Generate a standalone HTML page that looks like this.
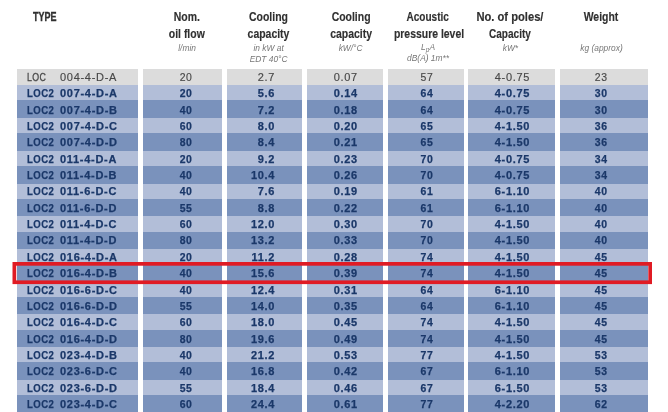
<!DOCTYPE html>
<html><head><meta charset="utf-8"><title>t</title>
<style>
html,body{margin:0;padding:0;background:#fff;}
body{width:668px;height:412px;overflow:hidden;position:relative;filter:blur(0.35px);font-family:"Liberation Sans",sans-serif;}
.c{position:absolute;}
.t{position:absolute;white-space:nowrap;font-weight:bold;font-size:11px;color:#1b3869;letter-spacing:0.7px;line-height:16px;transform-origin:0 50%;margin-top:0.4px;-webkit-text-stroke:0.25px #1b3869;}
.m{text-align:center;transform-origin:50% 50%;text-indent:0.7px;}
.r{text-align:right;transform-origin:100% 50%;}
.g{font-weight:normal;color:#484848;-webkit-text-stroke:0.15px #484848;}
.h{position:absolute;text-align:center;font-weight:bold;font-size:12px;color:#303030;line-height:16.5px;white-space:nowrap;transform:scaleX(0.87);transform-origin:50% 50%;-webkit-text-stroke:0.15px #303030;}
.s{position:absolute;text-align:center;font-style:italic;font-size:8.4px;color:#777;line-height:10.5px;white-space:nowrap;}
#red{position:absolute;left:12.4px;top:262px;width:632px;height:14.3px;border:3.8px solid #e01b24;}
</style></head><body>

<div class="c" style="left:17px;top:93.12px;width:121.2px;height:400px;background:#7a92bc"></div>
<div class="c" style="left:142.6px;top:93.12px;width:79.6px;height:400px;background:#7a92bc"></div>
<div class="c" style="left:226.6px;top:93.12px;width:75.0px;height:400px;background:#7a92bc"></div>
<div class="c" style="left:307px;top:93.12px;width:76.2px;height:400px;background:#7a92bc"></div>
<div class="c" style="left:388.1px;top:93.12px;width:75.5px;height:400px;background:#7a92bc"></div>
<div class="c" style="left:468.4px;top:93.12px;width:87.1px;height:400px;background:#7a92bc"></div>
<div class="c" style="left:560px;top:93.12px;width:88.0px;height:400px;background:#7a92bc"></div>
<div class="c" style="left:17px;top:68.60px;width:121.2px;height:16.45px;background:#dcdcdc"></div>
<div class="c" style="left:142.6px;top:68.60px;width:79.6px;height:16.45px;background:#dcdcdc"></div>
<div class="c" style="left:226.6px;top:68.60px;width:75.0px;height:16.45px;background:#dcdcdc"></div>
<div class="c" style="left:307px;top:68.60px;width:76.2px;height:16.45px;background:#dcdcdc"></div>
<div class="c" style="left:388.1px;top:68.60px;width:75.5px;height:16.45px;background:#dcdcdc"></div>
<div class="c" style="left:468.4px;top:68.60px;width:87.1px;height:16.45px;background:#dcdcdc"></div>
<div class="c" style="left:560px;top:68.60px;width:88.0px;height:16.45px;background:#dcdcdc"></div>
<div class="c" style="left:17px;top:84.65px;width:121.2px;height:15.25px;background:#b2bed8"></div>
<div class="c" style="left:142.6px;top:84.65px;width:79.6px;height:15.25px;background:#b2bed8"></div>
<div class="c" style="left:226.6px;top:84.65px;width:75.0px;height:15.25px;background:#b2bed8"></div>
<div class="c" style="left:307px;top:84.65px;width:76.2px;height:15.25px;background:#b2bed8"></div>
<div class="c" style="left:388.1px;top:84.65px;width:75.5px;height:15.25px;background:#b2bed8"></div>
<div class="c" style="left:468.4px;top:84.65px;width:87.1px;height:15.25px;background:#b2bed8"></div>
<div class="c" style="left:560px;top:84.65px;width:88.0px;height:15.25px;background:#b2bed8"></div>
<div class="c" style="left:17px;top:101.30px;width:121.2px;height:16.45px;background:#7a92bc"></div>
<div class="c" style="left:142.6px;top:101.30px;width:79.6px;height:16.45px;background:#7a92bc"></div>
<div class="c" style="left:226.6px;top:101.30px;width:75.0px;height:16.45px;background:#7a92bc"></div>
<div class="c" style="left:307px;top:101.30px;width:76.2px;height:16.45px;background:#7a92bc"></div>
<div class="c" style="left:388.1px;top:101.30px;width:75.5px;height:16.45px;background:#7a92bc"></div>
<div class="c" style="left:468.4px;top:101.30px;width:87.1px;height:16.45px;background:#7a92bc"></div>
<div class="c" style="left:560px;top:101.30px;width:88.0px;height:16.45px;background:#7a92bc"></div>
<div class="c" style="left:17px;top:118.15px;width:121.2px;height:15.35px;background:#b2bed8"></div>
<div class="c" style="left:142.6px;top:118.15px;width:79.6px;height:15.35px;background:#b2bed8"></div>
<div class="c" style="left:226.6px;top:118.15px;width:75.0px;height:15.35px;background:#b2bed8"></div>
<div class="c" style="left:307px;top:118.15px;width:76.2px;height:15.35px;background:#b2bed8"></div>
<div class="c" style="left:388.1px;top:118.15px;width:75.5px;height:15.35px;background:#b2bed8"></div>
<div class="c" style="left:468.4px;top:118.15px;width:87.1px;height:15.35px;background:#b2bed8"></div>
<div class="c" style="left:560px;top:118.15px;width:88.0px;height:15.35px;background:#b2bed8"></div>
<div class="c" style="left:17px;top:134.00px;width:121.2px;height:16.45px;background:#7a92bc"></div>
<div class="c" style="left:142.6px;top:134.00px;width:79.6px;height:16.45px;background:#7a92bc"></div>
<div class="c" style="left:226.6px;top:134.00px;width:75.0px;height:16.45px;background:#7a92bc"></div>
<div class="c" style="left:307px;top:134.00px;width:76.2px;height:16.45px;background:#7a92bc"></div>
<div class="c" style="left:388.1px;top:134.00px;width:75.5px;height:16.45px;background:#7a92bc"></div>
<div class="c" style="left:468.4px;top:134.00px;width:87.1px;height:16.45px;background:#7a92bc"></div>
<div class="c" style="left:560px;top:134.00px;width:88.0px;height:16.45px;background:#7a92bc"></div>
<div class="c" style="left:17px;top:150.85px;width:121.2px;height:15.35px;background:#b2bed8"></div>
<div class="c" style="left:142.6px;top:150.85px;width:79.6px;height:15.35px;background:#b2bed8"></div>
<div class="c" style="left:226.6px;top:150.85px;width:75.0px;height:15.35px;background:#b2bed8"></div>
<div class="c" style="left:307px;top:150.85px;width:76.2px;height:15.35px;background:#b2bed8"></div>
<div class="c" style="left:388.1px;top:150.85px;width:75.5px;height:15.35px;background:#b2bed8"></div>
<div class="c" style="left:468.4px;top:150.85px;width:87.1px;height:15.35px;background:#b2bed8"></div>
<div class="c" style="left:560px;top:150.85px;width:88.0px;height:15.35px;background:#b2bed8"></div>
<div class="c" style="left:17px;top:166.70px;width:121.2px;height:16.45px;background:#7a92bc"></div>
<div class="c" style="left:142.6px;top:166.70px;width:79.6px;height:16.45px;background:#7a92bc"></div>
<div class="c" style="left:226.6px;top:166.70px;width:75.0px;height:16.45px;background:#7a92bc"></div>
<div class="c" style="left:307px;top:166.70px;width:76.2px;height:16.45px;background:#7a92bc"></div>
<div class="c" style="left:388.1px;top:166.70px;width:75.5px;height:16.45px;background:#7a92bc"></div>
<div class="c" style="left:468.4px;top:166.70px;width:87.1px;height:16.45px;background:#7a92bc"></div>
<div class="c" style="left:560px;top:166.70px;width:88.0px;height:16.45px;background:#7a92bc"></div>
<div class="c" style="left:17px;top:183.55px;width:121.2px;height:15.35px;background:#b2bed8"></div>
<div class="c" style="left:142.6px;top:183.55px;width:79.6px;height:15.35px;background:#b2bed8"></div>
<div class="c" style="left:226.6px;top:183.55px;width:75.0px;height:15.35px;background:#b2bed8"></div>
<div class="c" style="left:307px;top:183.55px;width:76.2px;height:15.35px;background:#b2bed8"></div>
<div class="c" style="left:388.1px;top:183.55px;width:75.5px;height:15.35px;background:#b2bed8"></div>
<div class="c" style="left:468.4px;top:183.55px;width:87.1px;height:15.35px;background:#b2bed8"></div>
<div class="c" style="left:560px;top:183.55px;width:88.0px;height:15.35px;background:#b2bed8"></div>
<div class="c" style="left:17px;top:199.40px;width:121.2px;height:16.45px;background:#7a92bc"></div>
<div class="c" style="left:142.6px;top:199.40px;width:79.6px;height:16.45px;background:#7a92bc"></div>
<div class="c" style="left:226.6px;top:199.40px;width:75.0px;height:16.45px;background:#7a92bc"></div>
<div class="c" style="left:307px;top:199.40px;width:76.2px;height:16.45px;background:#7a92bc"></div>
<div class="c" style="left:388.1px;top:199.40px;width:75.5px;height:16.45px;background:#7a92bc"></div>
<div class="c" style="left:468.4px;top:199.40px;width:87.1px;height:16.45px;background:#7a92bc"></div>
<div class="c" style="left:560px;top:199.40px;width:88.0px;height:16.45px;background:#7a92bc"></div>
<div class="c" style="left:17px;top:216.25px;width:121.2px;height:15.35px;background:#b2bed8"></div>
<div class="c" style="left:142.6px;top:216.25px;width:79.6px;height:15.35px;background:#b2bed8"></div>
<div class="c" style="left:226.6px;top:216.25px;width:75.0px;height:15.35px;background:#b2bed8"></div>
<div class="c" style="left:307px;top:216.25px;width:76.2px;height:15.35px;background:#b2bed8"></div>
<div class="c" style="left:388.1px;top:216.25px;width:75.5px;height:15.35px;background:#b2bed8"></div>
<div class="c" style="left:468.4px;top:216.25px;width:87.1px;height:15.35px;background:#b2bed8"></div>
<div class="c" style="left:560px;top:216.25px;width:88.0px;height:15.35px;background:#b2bed8"></div>
<div class="c" style="left:17px;top:232.10px;width:121.2px;height:16.45px;background:#7a92bc"></div>
<div class="c" style="left:142.6px;top:232.10px;width:79.6px;height:16.45px;background:#7a92bc"></div>
<div class="c" style="left:226.6px;top:232.10px;width:75.0px;height:16.45px;background:#7a92bc"></div>
<div class="c" style="left:307px;top:232.10px;width:76.2px;height:16.45px;background:#7a92bc"></div>
<div class="c" style="left:388.1px;top:232.10px;width:75.5px;height:16.45px;background:#7a92bc"></div>
<div class="c" style="left:468.4px;top:232.10px;width:87.1px;height:16.45px;background:#7a92bc"></div>
<div class="c" style="left:560px;top:232.10px;width:88.0px;height:16.45px;background:#7a92bc"></div>
<div class="c" style="left:17px;top:248.95px;width:121.2px;height:15.35px;background:#b2bed8"></div>
<div class="c" style="left:142.6px;top:248.95px;width:79.6px;height:15.35px;background:#b2bed8"></div>
<div class="c" style="left:226.6px;top:248.95px;width:75.0px;height:15.35px;background:#b2bed8"></div>
<div class="c" style="left:307px;top:248.95px;width:76.2px;height:15.35px;background:#b2bed8"></div>
<div class="c" style="left:388.1px;top:248.95px;width:75.5px;height:15.35px;background:#b2bed8"></div>
<div class="c" style="left:468.4px;top:248.95px;width:87.1px;height:15.35px;background:#b2bed8"></div>
<div class="c" style="left:560px;top:248.95px;width:88.0px;height:15.35px;background:#b2bed8"></div>
<div class="c" style="left:17px;top:264.80px;width:121.2px;height:16.45px;background:#7a92bc"></div>
<div class="c" style="left:142.6px;top:264.80px;width:79.6px;height:16.45px;background:#7a92bc"></div>
<div class="c" style="left:226.6px;top:264.80px;width:75.0px;height:16.45px;background:#7a92bc"></div>
<div class="c" style="left:307px;top:264.80px;width:76.2px;height:16.45px;background:#7a92bc"></div>
<div class="c" style="left:388.1px;top:264.80px;width:75.5px;height:16.45px;background:#7a92bc"></div>
<div class="c" style="left:468.4px;top:264.80px;width:87.1px;height:16.45px;background:#7a92bc"></div>
<div class="c" style="left:560px;top:264.80px;width:88.0px;height:16.45px;background:#7a92bc"></div>
<div class="c" style="left:17px;top:281.65px;width:121.2px;height:15.35px;background:#b2bed8"></div>
<div class="c" style="left:142.6px;top:281.65px;width:79.6px;height:15.35px;background:#b2bed8"></div>
<div class="c" style="left:226.6px;top:281.65px;width:75.0px;height:15.35px;background:#b2bed8"></div>
<div class="c" style="left:307px;top:281.65px;width:76.2px;height:15.35px;background:#b2bed8"></div>
<div class="c" style="left:388.1px;top:281.65px;width:75.5px;height:15.35px;background:#b2bed8"></div>
<div class="c" style="left:468.4px;top:281.65px;width:87.1px;height:15.35px;background:#b2bed8"></div>
<div class="c" style="left:560px;top:281.65px;width:88.0px;height:15.35px;background:#b2bed8"></div>
<div class="c" style="left:17px;top:297.50px;width:121.2px;height:16.45px;background:#7a92bc"></div>
<div class="c" style="left:142.6px;top:297.50px;width:79.6px;height:16.45px;background:#7a92bc"></div>
<div class="c" style="left:226.6px;top:297.50px;width:75.0px;height:16.45px;background:#7a92bc"></div>
<div class="c" style="left:307px;top:297.50px;width:76.2px;height:16.45px;background:#7a92bc"></div>
<div class="c" style="left:388.1px;top:297.50px;width:75.5px;height:16.45px;background:#7a92bc"></div>
<div class="c" style="left:468.4px;top:297.50px;width:87.1px;height:16.45px;background:#7a92bc"></div>
<div class="c" style="left:560px;top:297.50px;width:88.0px;height:16.45px;background:#7a92bc"></div>
<div class="c" style="left:17px;top:314.35px;width:121.2px;height:15.35px;background:#b2bed8"></div>
<div class="c" style="left:142.6px;top:314.35px;width:79.6px;height:15.35px;background:#b2bed8"></div>
<div class="c" style="left:226.6px;top:314.35px;width:75.0px;height:15.35px;background:#b2bed8"></div>
<div class="c" style="left:307px;top:314.35px;width:76.2px;height:15.35px;background:#b2bed8"></div>
<div class="c" style="left:388.1px;top:314.35px;width:75.5px;height:15.35px;background:#b2bed8"></div>
<div class="c" style="left:468.4px;top:314.35px;width:87.1px;height:15.35px;background:#b2bed8"></div>
<div class="c" style="left:560px;top:314.35px;width:88.0px;height:15.35px;background:#b2bed8"></div>
<div class="c" style="left:17px;top:330.20px;width:121.2px;height:16.45px;background:#7a92bc"></div>
<div class="c" style="left:142.6px;top:330.20px;width:79.6px;height:16.45px;background:#7a92bc"></div>
<div class="c" style="left:226.6px;top:330.20px;width:75.0px;height:16.45px;background:#7a92bc"></div>
<div class="c" style="left:307px;top:330.20px;width:76.2px;height:16.45px;background:#7a92bc"></div>
<div class="c" style="left:388.1px;top:330.20px;width:75.5px;height:16.45px;background:#7a92bc"></div>
<div class="c" style="left:468.4px;top:330.20px;width:87.1px;height:16.45px;background:#7a92bc"></div>
<div class="c" style="left:560px;top:330.20px;width:88.0px;height:16.45px;background:#7a92bc"></div>
<div class="c" style="left:17px;top:347.05px;width:121.2px;height:15.35px;background:#b2bed8"></div>
<div class="c" style="left:142.6px;top:347.05px;width:79.6px;height:15.35px;background:#b2bed8"></div>
<div class="c" style="left:226.6px;top:347.05px;width:75.0px;height:15.35px;background:#b2bed8"></div>
<div class="c" style="left:307px;top:347.05px;width:76.2px;height:15.35px;background:#b2bed8"></div>
<div class="c" style="left:388.1px;top:347.05px;width:75.5px;height:15.35px;background:#b2bed8"></div>
<div class="c" style="left:468.4px;top:347.05px;width:87.1px;height:15.35px;background:#b2bed8"></div>
<div class="c" style="left:560px;top:347.05px;width:88.0px;height:15.35px;background:#b2bed8"></div>
<div class="c" style="left:17px;top:362.90px;width:121.2px;height:16.45px;background:#7a92bc"></div>
<div class="c" style="left:142.6px;top:362.90px;width:79.6px;height:16.45px;background:#7a92bc"></div>
<div class="c" style="left:226.6px;top:362.90px;width:75.0px;height:16.45px;background:#7a92bc"></div>
<div class="c" style="left:307px;top:362.90px;width:76.2px;height:16.45px;background:#7a92bc"></div>
<div class="c" style="left:388.1px;top:362.90px;width:75.5px;height:16.45px;background:#7a92bc"></div>
<div class="c" style="left:468.4px;top:362.90px;width:87.1px;height:16.45px;background:#7a92bc"></div>
<div class="c" style="left:560px;top:362.90px;width:88.0px;height:16.45px;background:#7a92bc"></div>
<div class="c" style="left:17px;top:379.75px;width:121.2px;height:15.35px;background:#b2bed8"></div>
<div class="c" style="left:142.6px;top:379.75px;width:79.6px;height:15.35px;background:#b2bed8"></div>
<div class="c" style="left:226.6px;top:379.75px;width:75.0px;height:15.35px;background:#b2bed8"></div>
<div class="c" style="left:307px;top:379.75px;width:76.2px;height:15.35px;background:#b2bed8"></div>
<div class="c" style="left:388.1px;top:379.75px;width:75.5px;height:15.35px;background:#b2bed8"></div>
<div class="c" style="left:468.4px;top:379.75px;width:87.1px;height:15.35px;background:#b2bed8"></div>
<div class="c" style="left:560px;top:379.75px;width:88.0px;height:15.35px;background:#b2bed8"></div>
<div class="c" style="left:17px;top:395.60px;width:121.2px;height:16.45px;background:#7a92bc"></div>
<div class="c" style="left:142.6px;top:395.60px;width:79.6px;height:16.45px;background:#7a92bc"></div>
<div class="c" style="left:226.6px;top:395.60px;width:75.0px;height:16.45px;background:#7a92bc"></div>
<div class="c" style="left:307px;top:395.60px;width:76.2px;height:16.45px;background:#7a92bc"></div>
<div class="c" style="left:388.1px;top:395.60px;width:75.5px;height:16.45px;background:#7a92bc"></div>
<div class="c" style="left:468.4px;top:395.60px;width:87.1px;height:16.45px;background:#7a92bc"></div>
<div class="c" style="left:560px;top:395.60px;width:88.0px;height:16.45px;background:#7a92bc"></div>
<div class="t g" style="left:26.5px;top:68.60px;letter-spacing:0.5px;transform:scaleX(0.8);-webkit-text-stroke:0.3px #484848">LOC</div>
<div class="t g" style="left:60px;top:68.60px">004-4-D-A</div>
<div class="t m g" style="left:145.9px;width:79.6px;top:68.60px;transform:scaleX(0.95)">20</div>
<div class="t m g" style="left:307.4px;width:76.19999999999999px;top:68.60px;transform:scaleX(1.0)">0.07</div>
<div class="t m g" style="left:388.5px;width:75.5px;top:68.60px;transform:scaleX(0.95)">57</div>
<div class="t m g" style="left:468.59999999999997px;width:87.10000000000002px;top:68.60px;transform:scaleX(1.0)">4-0.75</div>
<div class="t m g" style="left:557.0px;width:88px;top:68.60px;transform:scaleX(0.95)">23</div>
<div class="t r g" style="left:226.5px;width:48.7px;top:68.60px">2.7</div>
<div class="t" style="left:26.5px;top:84.95px;letter-spacing:0.5px;transform:scaleX(0.87)">LOC2</div>
<div class="t" style="left:60px;top:84.95px">007-4-D-A</div>
<div class="t m" style="left:145.9px;width:79.6px;top:84.95px;transform:scaleX(0.95)">20</div>
<div class="t m" style="left:307.4px;width:76.19999999999999px;top:84.95px;transform:scaleX(1.0)">0.14</div>
<div class="t m" style="left:388.5px;width:75.5px;top:84.95px;transform:scaleX(0.95)">64</div>
<div class="t m" style="left:468.59999999999997px;width:87.10000000000002px;top:84.95px;transform:scaleX(1.0)">4-0.75</div>
<div class="t m" style="left:557.0px;width:88px;top:84.95px;transform:scaleX(0.95)">30</div>
<div class="t r" style="left:226.5px;width:48.7px;top:84.95px">5.6</div>
<div class="t" style="left:26.5px;top:101.30px;letter-spacing:0.5px;transform:scaleX(0.87)">LOC2</div>
<div class="t" style="left:60px;top:101.30px">007-4-D-B</div>
<div class="t m" style="left:145.9px;width:79.6px;top:101.30px;transform:scaleX(0.95)">40</div>
<div class="t m" style="left:307.4px;width:76.19999999999999px;top:101.30px;transform:scaleX(1.0)">0.18</div>
<div class="t m" style="left:388.5px;width:75.5px;top:101.30px;transform:scaleX(0.95)">64</div>
<div class="t m" style="left:468.59999999999997px;width:87.10000000000002px;top:101.30px;transform:scaleX(1.0)">4-0.75</div>
<div class="t m" style="left:557.0px;width:88px;top:101.30px;transform:scaleX(0.95)">30</div>
<div class="t r" style="left:226.5px;width:48.7px;top:101.30px">7.2</div>
<div class="t" style="left:26.5px;top:117.65px;letter-spacing:0.5px;transform:scaleX(0.87)">LOC2</div>
<div class="t" style="left:60px;top:117.65px">007-4-D-C</div>
<div class="t m" style="left:145.9px;width:79.6px;top:117.65px;transform:scaleX(0.95)">60</div>
<div class="t m" style="left:307.4px;width:76.19999999999999px;top:117.65px;transform:scaleX(1.0)">0.20</div>
<div class="t m" style="left:388.5px;width:75.5px;top:117.65px;transform:scaleX(0.95)">65</div>
<div class="t m" style="left:468.59999999999997px;width:87.10000000000002px;top:117.65px;transform:scaleX(1.0)">4-1.50</div>
<div class="t m" style="left:557.0px;width:88px;top:117.65px;transform:scaleX(0.95)">36</div>
<div class="t r" style="left:226.5px;width:48.7px;top:117.65px">8.0</div>
<div class="t" style="left:26.5px;top:134.00px;letter-spacing:0.5px;transform:scaleX(0.87)">LOC2</div>
<div class="t" style="left:60px;top:134.00px">007-4-D-D</div>
<div class="t m" style="left:145.9px;width:79.6px;top:134.00px;transform:scaleX(0.95)">80</div>
<div class="t m" style="left:307.4px;width:76.19999999999999px;top:134.00px;transform:scaleX(1.0)">0.21</div>
<div class="t m" style="left:388.5px;width:75.5px;top:134.00px;transform:scaleX(0.95)">65</div>
<div class="t m" style="left:468.59999999999997px;width:87.10000000000002px;top:134.00px;transform:scaleX(1.0)">4-1.50</div>
<div class="t m" style="left:557.0px;width:88px;top:134.00px;transform:scaleX(0.95)">36</div>
<div class="t r" style="left:226.5px;width:48.7px;top:134.00px">8.4</div>
<div class="t" style="left:26.5px;top:150.35px;letter-spacing:0.5px;transform:scaleX(0.87)">LOC2</div>
<div class="t" style="left:60px;top:150.35px">011-4-D-A</div>
<div class="t m" style="left:145.9px;width:79.6px;top:150.35px;transform:scaleX(0.95)">20</div>
<div class="t m" style="left:307.4px;width:76.19999999999999px;top:150.35px;transform:scaleX(1.0)">0.23</div>
<div class="t m" style="left:388.5px;width:75.5px;top:150.35px;transform:scaleX(0.95)">70</div>
<div class="t m" style="left:468.59999999999997px;width:87.10000000000002px;top:150.35px;transform:scaleX(1.0)">4-0.75</div>
<div class="t m" style="left:557.0px;width:88px;top:150.35px;transform:scaleX(0.95)">34</div>
<div class="t r" style="left:226.5px;width:48.7px;top:150.35px">9.2</div>
<div class="t" style="left:26.5px;top:166.70px;letter-spacing:0.5px;transform:scaleX(0.87)">LOC2</div>
<div class="t" style="left:60px;top:166.70px">011-4-D-B</div>
<div class="t m" style="left:145.9px;width:79.6px;top:166.70px;transform:scaleX(0.95)">40</div>
<div class="t m" style="left:307.4px;width:76.19999999999999px;top:166.70px;transform:scaleX(1.0)">0.26</div>
<div class="t m" style="left:388.5px;width:75.5px;top:166.70px;transform:scaleX(0.95)">70</div>
<div class="t m" style="left:468.59999999999997px;width:87.10000000000002px;top:166.70px;transform:scaleX(1.0)">4-0.75</div>
<div class="t m" style="left:557.0px;width:88px;top:166.70px;transform:scaleX(0.95)">34</div>
<div class="t r" style="left:226.5px;width:48.7px;top:166.70px">10.4</div>
<div class="t" style="left:26.5px;top:183.05px;letter-spacing:0.5px;transform:scaleX(0.87)">LOC2</div>
<div class="t" style="left:60px;top:183.05px">011-6-D-C</div>
<div class="t m" style="left:145.9px;width:79.6px;top:183.05px;transform:scaleX(0.95)">40</div>
<div class="t m" style="left:307.4px;width:76.19999999999999px;top:183.05px;transform:scaleX(1.0)">0.19</div>
<div class="t m" style="left:388.5px;width:75.5px;top:183.05px;transform:scaleX(0.95)">61</div>
<div class="t m" style="left:468.59999999999997px;width:87.10000000000002px;top:183.05px;transform:scaleX(1.0)">6-1.10</div>
<div class="t m" style="left:557.0px;width:88px;top:183.05px;transform:scaleX(0.95)">40</div>
<div class="t r" style="left:226.5px;width:48.7px;top:183.05px">7.6</div>
<div class="t" style="left:26.5px;top:199.40px;letter-spacing:0.5px;transform:scaleX(0.87)">LOC2</div>
<div class="t" style="left:60px;top:199.40px">011-6-D-D</div>
<div class="t m" style="left:145.9px;width:79.6px;top:199.40px;transform:scaleX(0.95)">55</div>
<div class="t m" style="left:307.4px;width:76.19999999999999px;top:199.40px;transform:scaleX(1.0)">0.22</div>
<div class="t m" style="left:388.5px;width:75.5px;top:199.40px;transform:scaleX(0.95)">61</div>
<div class="t m" style="left:468.59999999999997px;width:87.10000000000002px;top:199.40px;transform:scaleX(1.0)">6-1.10</div>
<div class="t m" style="left:557.0px;width:88px;top:199.40px;transform:scaleX(0.95)">40</div>
<div class="t r" style="left:226.5px;width:48.7px;top:199.40px">8.8</div>
<div class="t" style="left:26.5px;top:215.75px;letter-spacing:0.5px;transform:scaleX(0.87)">LOC2</div>
<div class="t" style="left:60px;top:215.75px">011-4-D-C</div>
<div class="t m" style="left:145.9px;width:79.6px;top:215.75px;transform:scaleX(0.95)">60</div>
<div class="t m" style="left:307.4px;width:76.19999999999999px;top:215.75px;transform:scaleX(1.0)">0.30</div>
<div class="t m" style="left:388.5px;width:75.5px;top:215.75px;transform:scaleX(0.95)">70</div>
<div class="t m" style="left:468.59999999999997px;width:87.10000000000002px;top:215.75px;transform:scaleX(1.0)">4-1.50</div>
<div class="t m" style="left:557.0px;width:88px;top:215.75px;transform:scaleX(0.95)">40</div>
<div class="t r" style="left:226.5px;width:48.7px;top:215.75px">12.0</div>
<div class="t" style="left:26.5px;top:232.10px;letter-spacing:0.5px;transform:scaleX(0.87)">LOC2</div>
<div class="t" style="left:60px;top:232.10px">011-4-D-D</div>
<div class="t m" style="left:145.9px;width:79.6px;top:232.10px;transform:scaleX(0.95)">80</div>
<div class="t m" style="left:307.4px;width:76.19999999999999px;top:232.10px;transform:scaleX(1.0)">0.33</div>
<div class="t m" style="left:388.5px;width:75.5px;top:232.10px;transform:scaleX(0.95)">70</div>
<div class="t m" style="left:468.59999999999997px;width:87.10000000000002px;top:232.10px;transform:scaleX(1.0)">4-1.50</div>
<div class="t m" style="left:557.0px;width:88px;top:232.10px;transform:scaleX(0.95)">40</div>
<div class="t r" style="left:226.5px;width:48.7px;top:232.10px">13.2</div>
<div class="t" style="left:26.5px;top:248.45px;letter-spacing:0.5px;transform:scaleX(0.87)">LOC2</div>
<div class="t" style="left:60px;top:248.45px">016-4-D-A</div>
<div class="t m" style="left:145.9px;width:79.6px;top:248.45px;transform:scaleX(0.95)">20</div>
<div class="t m" style="left:307.4px;width:76.19999999999999px;top:248.45px;transform:scaleX(1.0)">0.28</div>
<div class="t m" style="left:388.5px;width:75.5px;top:248.45px;transform:scaleX(0.95)">74</div>
<div class="t m" style="left:468.59999999999997px;width:87.10000000000002px;top:248.45px;transform:scaleX(1.0)">4-1.50</div>
<div class="t m" style="left:557.0px;width:88px;top:248.45px;transform:scaleX(0.95)">45</div>
<div class="t r" style="left:226.5px;width:48.7px;top:248.45px">11.2</div>
<div class="t" style="left:26.5px;top:264.80px;letter-spacing:0.5px;transform:scaleX(0.87)">LOC2</div>
<div class="t" style="left:60px;top:264.80px">016-4-D-B</div>
<div class="t m" style="left:145.9px;width:79.6px;top:264.80px;transform:scaleX(0.95)">40</div>
<div class="t m" style="left:307.4px;width:76.19999999999999px;top:264.80px;transform:scaleX(1.0)">0.39</div>
<div class="t m" style="left:388.5px;width:75.5px;top:264.80px;transform:scaleX(0.95)">74</div>
<div class="t m" style="left:468.59999999999997px;width:87.10000000000002px;top:264.80px;transform:scaleX(1.0)">4-1.50</div>
<div class="t m" style="left:557.0px;width:88px;top:264.80px;transform:scaleX(0.95)">45</div>
<div class="t r" style="left:226.5px;width:48.7px;top:264.80px">15.6</div>
<div class="t" style="left:26.5px;top:281.15px;letter-spacing:0.5px;transform:scaleX(0.87)">LOC2</div>
<div class="t" style="left:60px;top:281.15px">016-6-D-C</div>
<div class="t m" style="left:145.9px;width:79.6px;top:281.15px;transform:scaleX(0.95)">40</div>
<div class="t m" style="left:307.4px;width:76.19999999999999px;top:281.15px;transform:scaleX(1.0)">0.31</div>
<div class="t m" style="left:388.5px;width:75.5px;top:281.15px;transform:scaleX(0.95)">64</div>
<div class="t m" style="left:468.59999999999997px;width:87.10000000000002px;top:281.15px;transform:scaleX(1.0)">6-1.10</div>
<div class="t m" style="left:557.0px;width:88px;top:281.15px;transform:scaleX(0.95)">45</div>
<div class="t r" style="left:226.5px;width:48.7px;top:281.15px">12.4</div>
<div class="t" style="left:26.5px;top:297.50px;letter-spacing:0.5px;transform:scaleX(0.87)">LOC2</div>
<div class="t" style="left:60px;top:297.50px">016-6-D-D</div>
<div class="t m" style="left:145.9px;width:79.6px;top:297.50px;transform:scaleX(0.95)">55</div>
<div class="t m" style="left:307.4px;width:76.19999999999999px;top:297.50px;transform:scaleX(1.0)">0.35</div>
<div class="t m" style="left:388.5px;width:75.5px;top:297.50px;transform:scaleX(0.95)">64</div>
<div class="t m" style="left:468.59999999999997px;width:87.10000000000002px;top:297.50px;transform:scaleX(1.0)">6-1.10</div>
<div class="t m" style="left:557.0px;width:88px;top:297.50px;transform:scaleX(0.95)">45</div>
<div class="t r" style="left:226.5px;width:48.7px;top:297.50px">14.0</div>
<div class="t" style="left:26.5px;top:313.85px;letter-spacing:0.5px;transform:scaleX(0.87)">LOC2</div>
<div class="t" style="left:60px;top:313.85px">016-4-D-C</div>
<div class="t m" style="left:145.9px;width:79.6px;top:313.85px;transform:scaleX(0.95)">60</div>
<div class="t m" style="left:307.4px;width:76.19999999999999px;top:313.85px;transform:scaleX(1.0)">0.45</div>
<div class="t m" style="left:388.5px;width:75.5px;top:313.85px;transform:scaleX(0.95)">74</div>
<div class="t m" style="left:468.59999999999997px;width:87.10000000000002px;top:313.85px;transform:scaleX(1.0)">4-1.50</div>
<div class="t m" style="left:557.0px;width:88px;top:313.85px;transform:scaleX(0.95)">45</div>
<div class="t r" style="left:226.5px;width:48.7px;top:313.85px">18.0</div>
<div class="t" style="left:26.5px;top:330.20px;letter-spacing:0.5px;transform:scaleX(0.87)">LOC2</div>
<div class="t" style="left:60px;top:330.20px">016-4-D-D</div>
<div class="t m" style="left:145.9px;width:79.6px;top:330.20px;transform:scaleX(0.95)">80</div>
<div class="t m" style="left:307.4px;width:76.19999999999999px;top:330.20px;transform:scaleX(1.0)">0.49</div>
<div class="t m" style="left:388.5px;width:75.5px;top:330.20px;transform:scaleX(0.95)">74</div>
<div class="t m" style="left:468.59999999999997px;width:87.10000000000002px;top:330.20px;transform:scaleX(1.0)">4-1.50</div>
<div class="t m" style="left:557.0px;width:88px;top:330.20px;transform:scaleX(0.95)">45</div>
<div class="t r" style="left:226.5px;width:48.7px;top:330.20px">19.6</div>
<div class="t" style="left:26.5px;top:346.55px;letter-spacing:0.5px;transform:scaleX(0.87)">LOC2</div>
<div class="t" style="left:60px;top:346.55px">023-4-D-B</div>
<div class="t m" style="left:145.9px;width:79.6px;top:346.55px;transform:scaleX(0.95)">40</div>
<div class="t m" style="left:307.4px;width:76.19999999999999px;top:346.55px;transform:scaleX(1.0)">0.53</div>
<div class="t m" style="left:388.5px;width:75.5px;top:346.55px;transform:scaleX(0.95)">77</div>
<div class="t m" style="left:468.59999999999997px;width:87.10000000000002px;top:346.55px;transform:scaleX(1.0)">4-1.50</div>
<div class="t m" style="left:557.0px;width:88px;top:346.55px;transform:scaleX(0.95)">53</div>
<div class="t r" style="left:226.5px;width:48.7px;top:346.55px">21.2</div>
<div class="t" style="left:26.5px;top:362.90px;letter-spacing:0.5px;transform:scaleX(0.87)">LOC2</div>
<div class="t" style="left:60px;top:362.90px">023-6-D-C</div>
<div class="t m" style="left:145.9px;width:79.6px;top:362.90px;transform:scaleX(0.95)">40</div>
<div class="t m" style="left:307.4px;width:76.19999999999999px;top:362.90px;transform:scaleX(1.0)">0.42</div>
<div class="t m" style="left:388.5px;width:75.5px;top:362.90px;transform:scaleX(0.95)">67</div>
<div class="t m" style="left:468.59999999999997px;width:87.10000000000002px;top:362.90px;transform:scaleX(1.0)">6-1.10</div>
<div class="t m" style="left:557.0px;width:88px;top:362.90px;transform:scaleX(0.95)">53</div>
<div class="t r" style="left:226.5px;width:48.7px;top:362.90px">16.8</div>
<div class="t" style="left:26.5px;top:379.25px;letter-spacing:0.5px;transform:scaleX(0.87)">LOC2</div>
<div class="t" style="left:60px;top:379.25px">023-6-D-D</div>
<div class="t m" style="left:145.9px;width:79.6px;top:379.25px;transform:scaleX(0.95)">55</div>
<div class="t m" style="left:307.4px;width:76.19999999999999px;top:379.25px;transform:scaleX(1.0)">0.46</div>
<div class="t m" style="left:388.5px;width:75.5px;top:379.25px;transform:scaleX(0.95)">67</div>
<div class="t m" style="left:468.59999999999997px;width:87.10000000000002px;top:379.25px;transform:scaleX(1.0)">6-1.50</div>
<div class="t m" style="left:557.0px;width:88px;top:379.25px;transform:scaleX(0.95)">53</div>
<div class="t r" style="left:226.5px;width:48.7px;top:379.25px">18.4</div>
<div class="t" style="left:26.5px;top:395.60px;letter-spacing:0.5px;transform:scaleX(0.87)">LOC2</div>
<div class="t" style="left:60px;top:395.60px">023-4-D-C</div>
<div class="t m" style="left:145.9px;width:79.6px;top:395.60px;transform:scaleX(0.95)">60</div>
<div class="t m" style="left:307.4px;width:76.19999999999999px;top:395.60px;transform:scaleX(1.0)">0.61</div>
<div class="t m" style="left:388.5px;width:75.5px;top:395.60px;transform:scaleX(0.95)">77</div>
<div class="t m" style="left:468.59999999999997px;width:87.10000000000002px;top:395.60px;transform:scaleX(1.0)">4-2.20</div>
<div class="t m" style="left:557.0px;width:88px;top:395.60px;transform:scaleX(0.95)">62</div>
<div class="t r" style="left:226.5px;width:48.7px;top:395.60px">24.4</div>
<div class="h" style="left:32.5px;top:9px;text-align:left;transform-origin:0 50%;transform:scaleX(0.75);-webkit-text-stroke:0.35px #303030">TYPE</div>
<div class="h" style="left:147.29999999999998px;width:79.6px;top:9px">Nom.<br>oil flow</div>
<div class="s" style="left:147.29999999999998px;width:79.6px;top:43.1px">l/min</div>
<div class="h" style="left:231.1px;width:75.00000000000003px;top:9px">Cooling<br>capacity</div>
<div class="s" style="left:231.1px;width:75.00000000000003px;top:43.1px">in kW at<br>EDT 40°C</div>
<div class="h" style="left:312.5px;width:76.19999999999999px;top:9px">Cooling<br>capacity</div>
<div class="s" style="left:312.5px;width:76.19999999999999px;top:43.1px">kW/°C</div>
<div class="h" style="left:388.90000000000003px;width:75.5px;top:9px"><span style='display:inline-block;transform:translateX(1.5px) scaleX(0.96)'>Acoustic</span><br>pressure level</div>
<div class="s" style="left:390.3px;width:75.5px;top:42.3px">L<span style='font-size:6.5px;position:relative;top:1.5px;line-height:0'>p</span>A<br>dB(A) 1m**</div>
<div class="h" style="left:465.7px;width:87.10000000000002px;top:9px"><span style='display:inline-block;transform:scaleX(1.07)'>No. of poles/</span><br><span style='display:inline-block;transform:scaleX(0.96)'>Capacity</span></div>
<div class="s" style="left:466.9px;width:87.10000000000002px;top:43.1px">kW*</div>
<div class="h" style="left:557px;width:88px;top:9px">Weight<br></div>
<div class="s" style="left:557.5px;width:88px;top:43.1px">kg (approx)</div>
<svg style="position:absolute;left:0;top:0" width="668" height="412"><rect x="14.35" y="263.85" width="635.8" height="18.4" fill="none" stroke="#e01b24" stroke-width="3.7"/></svg>
</body></html>
